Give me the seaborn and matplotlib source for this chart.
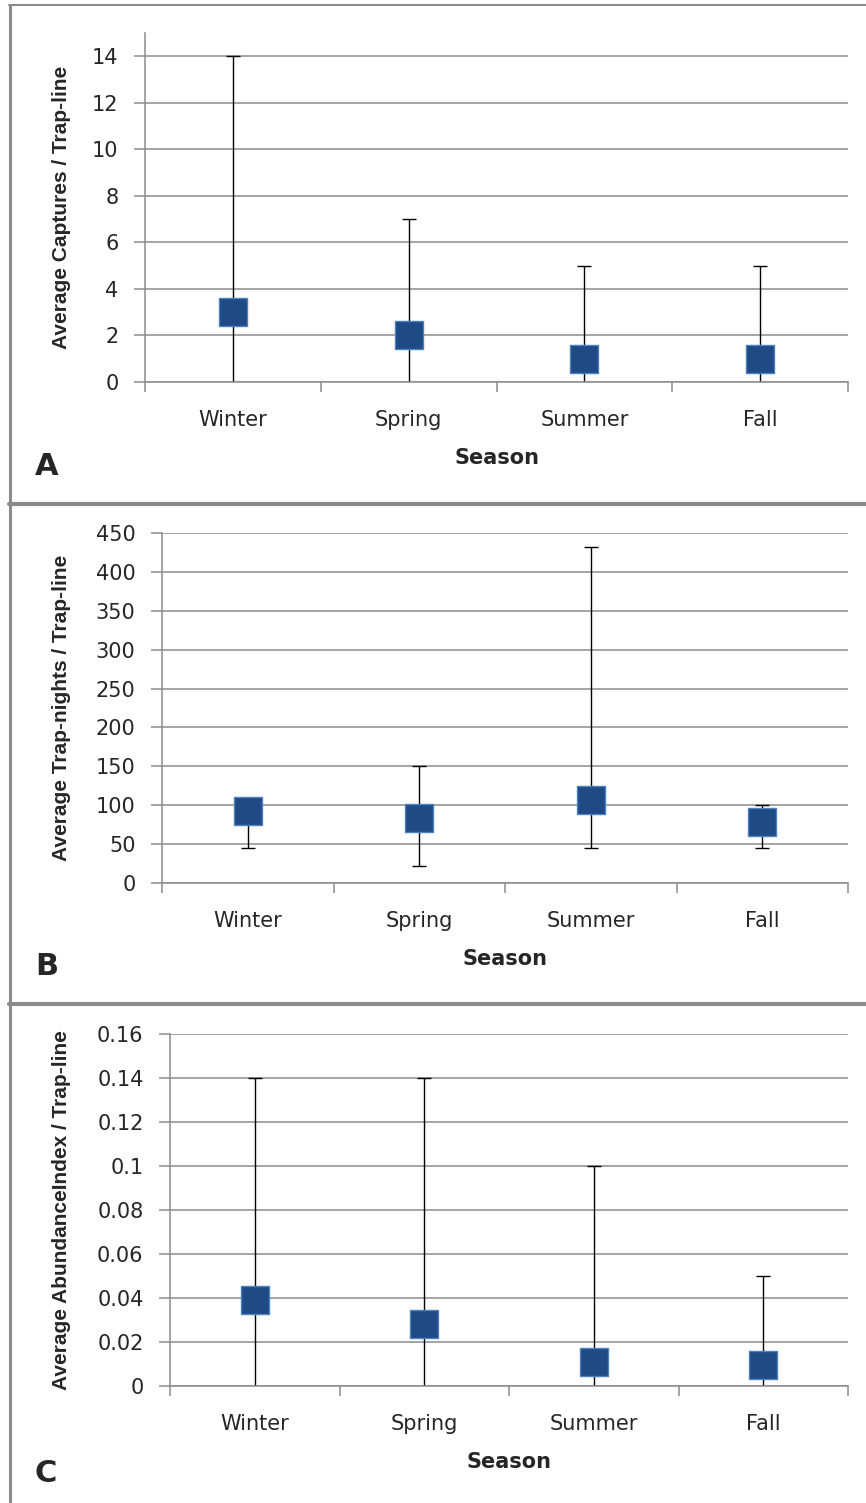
import numpy as np
import matplotlib
matplotlib.use('Agg')
import matplotlib.pyplot as plt
from matplotlib.lines import Line2D
from matplotlib.ticker import FixedLocator
import seaborn as sns

# data
seasons = ['Winter', 'Spring', 'Summer', 'Fall']

captures_mean = [3, 2, 1, 1]
captures_lo = [0, 0, 0, 0]
captures_hi = [14, 7, 5, 5]

nights_mean = [92, 84, 107, 78]
nights_lo = [45, 22, 45, 45]
nights_hi = [100, 150, 432, 100]

abund_mean = [0.039, 0.028, 0.011, 0.0097]
abund_lo = [0, 0, 0, 0]
abund_hi = [0.14, 0.14, 0.10, 0.05]

captures_ticks = [0, 2, 4, 6, 8, 10, 12, 14]
nights_ticks = [0, 50, 100, 150, 200, 250, 300, 350, 400, 450]
abund_ticks = [0, 0.02, 0.04, 0.06, 0.08, 0.1, 0.12, 0.14, 0.16]

sns.set_style('white')
plt.rcParams['font.family'] = ['DejaVu Sans']

W, H = 866, 1503
fig = plt.figure(figsize=(W / 100, H / 100), dpi=100)

grey = '#8c8c8c'
face = '#1F4A84'
edge = '#4F81BD'


def px_axes(left, right, top, bottom):
    # pixel box -> figure fraction
    return fig.add_axes([left / W, 1 - bottom / H, (right - left) / W, (bottom - top) / H])


panels = [
    # axes box, mean, lo, hi, ticks, ylim top, ylabel, letter, letter baseline
    ((145, 848, 33, 382), captures_mean, captures_lo, captures_hi, captures_ticks, 15,
     'Average Captures / Trap-line', 'A', 475),
    ((162, 848, 533, 883), nights_mean, nights_lo, nights_hi, nights_ticks, 450,
     'Average Trap-nights / Trap-line', 'B', 975),
    ((170, 848, 1034, 1386), abund_mean, abund_lo, abund_hi, abund_ticks, 0.16,
     'Average AbundanceIndex / Trap-line', 'C', 1482),
]

pos = np.arange(len(seasons))
eb = dict(fmt='none', ecolor='black', elinewidth=1.0, capthick=1.0, zorder=2)

for box, mean, lo, hi, ticks, ytop, ylab, letter, base in panels:
    ax = px_axes(*box)
    mean = np.array(mean)
    lo = np.array(lo)
    hi = np.array(hi)
    # upper whiskers with caps
    ax.errorbar(pos, mean, yerr=[np.zeros_like(mean), hi - mean], capsize=4.8, **eb)
    # lower whiskers: cap only where it does not sit on the axis
    has_cap = lo > 0
    if has_cap.any():
        ax.errorbar(pos[has_cap], mean[has_cap], yerr=[(mean - lo)[has_cap], np.zeros(has_cap.sum())],
                    capsize=4.8, **eb)
    if (~has_cap).any():
        ax.errorbar(pos[~has_cap], mean[~has_cap], yerr=[(mean - lo)[~has_cap], np.zeros((~has_cap).sum())],
                    capsize=0, **eb)
    sns.scatterplot(x=pos, y=mean, marker='s', s=380, color=face,
                    edgecolor=edge, linewidth=1.0, zorder=3, ax=ax)

    ax.set_xlim(-0.5, len(seasons) - 0.5)
    ax.set_ylim(0, ytop)
    ax.set_xticks(pos)
    ax.set_xticklabels(seasons)
    ax.xaxis.set_minor_locator(FixedLocator(np.arange(len(seasons) + 1) - 0.5))
    ax.tick_params(axis='x', which='major', length=0, pad=20, labelsize=15,
                   labelcolor='#262626')
    ax.tick_params(axis='x', which='minor', length=7, width=1.1, color=grey,
                   direction='out', bottom=True)
    ax.set_yticks(ticks)
    ax.set_yticklabels([f'{round(t, 2):g}' for t in ticks])
    ax.tick_params(axis='y', length=8, width=1.1, color=grey, pad=11,
                   labelsize=15, labelcolor='#262626', left=True)

    ax.yaxis.grid(True, color=grey, linewidth=1.1)
    ax.set_axisbelow(True)
    for s in ['top', 'right']:
        ax.spines[s].set_visible(False)
    for s in ['left', 'bottom']:
        ax.spines[s].set_color(grey)
        ax.spines[s].set_linewidth(1.1)

    ax.set_xlabel('Season', fontsize=15, fontweight='bold', labelpad=13)
    ax.set_ylabel('')
    fig.text(62 / W, 1 - (box[2] + box[3]) / 2 / H, ylab, rotation=90,
             ha='center', va='center', fontsize=15, fontweight='bold',
             family=['Liberation Sans Narrow', 'Liberation Sans'])
    fig.text(35 / W, 1 - base / H, letter, ha='left', va='baseline',
             fontsize=22, fontweight='bold')

# panel frame lines
fig.add_artist(Line2D([9 / W, 1], [1 - 5 / H, 1 - 5 / H], transform=fig.transFigure,
                      color=grey, linewidth=1.5))
fig.add_artist(Line2D([9.5 / W, 9.5 / W], [0, 1 - 5 / H], transform=fig.transFigure,
                      color=grey, linewidth=2.2))
for yy in [504, 1004]:
    fig.add_artist(Line2D([9 / W, 1], [1 - yy / H, 1 - yy / H], transform=fig.transFigure,
                          color=grey, linewidth=3))

fig.savefig('out.png', dpi=100, facecolor='white')
